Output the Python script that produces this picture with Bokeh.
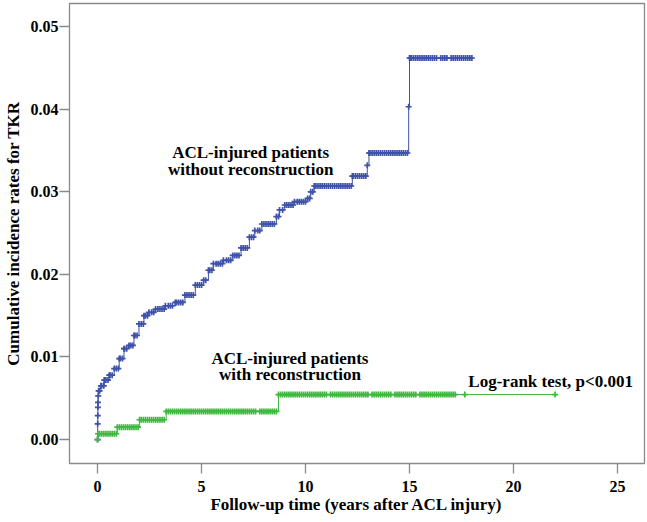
import numpy as np
from bokeh.plotting import figure
from bokeh.models import Range1d, FixedTicker, PrintfTickFormatter
from bokeh.core.properties import value
from bokeh.embed import file_html
from bokeh.resources import INLINE

# ---- data ----
# ACL-injured patients without reconstruction: event times (years) and cumulative incidence
blue_t = [0.0, 0.005, 0.01, 0.015, 0.02, 0.03, 0.05, 0.16, 0.32, 0.56, 0.80, 1.04, 1.27, 1.51,
          1.75, 1.99, 2.23, 2.47, 2.79, 3.26, 3.74, 4.20, 4.70, 5.10, 5.33, 5.57, 6.05, 6.50,
          6.90, 7.30, 7.56, 7.90, 8.60, 8.75, 9.00, 9.47, 10.10, 10.25, 10.42, 12.25, 12.97,
          13.05, 14.96, 15.00]
blue_s = [0.0, 0.0019, 0.0029, 0.0039, 0.0045, 0.0053, 0.0059, 0.0065, 0.0072, 0.0078, 0.0086,
          0.0098, 0.0110, 0.0114, 0.0126, 0.0140, 0.0150, 0.0154, 0.0158, 0.0162, 0.0166,
          0.0175, 0.0187, 0.0193, 0.0205, 0.0213, 0.0217, 0.0223, 0.0232, 0.0245, 0.0253,
          0.0261, 0.0270, 0.0278, 0.0284, 0.0288, 0.0292, 0.0300, 0.0307, 0.0319, 0.0332,
          0.0347, 0.0403, 0.0462]
blue_end = 18.0
blue_cens = [0.1, 0.2, 0.3, 0.4, 0.5, 0.6, 0.7, 0.9, 1.0, 1.1, 1.2, 1.3, 1.4, 1.6, 1.7, 1.8, 1.9,
             2.1, 2.2, 2.3, 2.4, 2.6, 2.7, 2.9, 3.0, 3.1, 3.2, 3.4, 3.5, 3.6, 3.8, 3.9, 4.0, 4.1,
             4.3, 4.4, 4.5, 4.6, 4.8, 4.9, 5.0, 5.2, 5.4, 5.5, 5.7, 5.8, 5.9, 6.0, 6.2, 6.3, 6.4,
             6.6, 6.7, 6.8, 7.0, 7.1, 7.2, 7.4, 7.5, 7.7, 7.8, 8.0, 8.1, 8.2, 8.3, 8.4, 8.5, 8.7,
             8.9, 9.1, 9.2, 9.3, 9.4, 9.6, 9.7, 9.8, 9.9, 10.0, 10.2, 10.35, 10.5, 10.6, 10.7,
             10.8, 10.9, 11.0, 11.1, 11.2, 11.3, 11.4, 11.5, 11.6, 11.7, 11.8, 11.9, 12.0, 12.1,
             12.2, 12.3, 12.4, 12.5, 12.6, 12.7, 12.8, 12.9, 13.1, 13.2, 13.3, 13.4, 13.5, 13.6,
             13.7, 13.8, 13.9, 14.0, 14.1, 14.2, 14.3, 14.4, 14.5, 14.6, 14.7, 14.8, 14.9,
             15.05, 15.1, 15.2, 15.3, 15.4, 15.5, 15.6, 15.7, 15.8, 15.9, 16.0, 16.1, 16.2,
             16.3, 16.5, 16.6, 16.7, 16.8, 17.0, 17.1, 17.2, 17.3, 17.4, 17.5, 17.6, 17.7,
             17.8, 17.9, 18.0]

# ACL-injured patients with reconstruction
green_t = [0.0, 0.02, 0.95, 2.02, 3.30, 8.70]
green_s = [0.0, 0.0007, 0.0015, 0.0024, 0.0034, 0.00545]
green_end = 22.0
green_cens = [0.1, 0.2, 0.3, 0.4, 0.5, 0.6, 0.7, 0.8, 0.9, 1.05, 1.15, 1.25, 1.35, 1.45, 1.55,
              1.65, 1.75, 1.85, 1.95, 2.1, 2.2, 2.3, 2.4, 2.5, 2.6, 2.7, 2.8, 2.9, 3.0, 3.1,
              3.2, 3.4, 3.5, 3.6, 3.7, 3.8, 3.9, 4.0, 4.1, 4.2, 4.3, 4.4, 4.5, 4.6, 4.7, 4.8,
              4.9, 5.0, 5.1, 5.2, 5.3, 5.4, 5.5, 5.6, 5.7, 5.8, 5.9, 6.0, 6.1, 6.2, 6.3, 6.4,
              6.5, 6.6, 6.7, 6.8, 6.9, 7.0, 7.1, 7.2, 7.3, 7.4, 7.5, 7.6, 7.8, 7.9, 8.0, 8.1,
              8.2, 8.3, 8.4, 8.5, 8.6, 8.8, 8.9, 9.0, 9.1, 9.2, 9.3, 9.4, 9.5, 9.6, 9.7, 9.8,
              9.9, 10.0, 10.1, 10.2, 10.3, 10.4, 10.5, 10.6, 10.7, 10.8, 10.9, 11.0, 11.2,
              11.3, 11.4, 11.5, 11.6, 11.7, 11.8, 11.9, 12.0, 12.1, 12.2, 12.3, 12.4, 12.5,
              12.6, 12.7, 12.8, 12.9, 13.0, 13.2, 13.3, 13.4, 13.5, 13.6, 13.7, 13.8, 13.9,
              14.0, 14.1, 14.3, 14.4, 14.5, 14.6, 14.7, 14.8, 14.9, 15.0, 15.1, 15.2, 15.3,
              15.5, 15.6, 15.7, 15.8, 15.9, 16.0, 16.1, 16.2, 16.3, 16.4, 16.5, 16.6, 16.7,
              16.8, 16.9, 17.0, 17.1, 17.2, 17.66, 22.0]

x_ticks = [0, 5, 10, 15, 20, 25]
y_ticks = [0.0, 0.01, 0.02, 0.03, 0.04, 0.05]

BLUE = "#3d52a8"
GREEN = "#3fb83f"
FONT = "Liberation Serif"

p = figure(width=647, height=522, output_backend="svg", toolbar_location=None,
           x_range=Range1d(-1.35, 26.3), y_range=Range1d(-0.0029, 0.0528),
           min_border_left=65, min_border_right=3, min_border_top=3, min_border_bottom=59)
p.title.visible = False
p.xgrid.visible = False
p.ygrid.visible = False
p.outline_line_color = "#8a8a8a"
p.outline_line_width = 1.3
p.background_fill_color = "white"


def cens_y(t, s, cens):
    idx = np.searchsorted(np.array(t), np.array(cens), side="right") - 1
    return list(np.array(s)[idx])


for t, s, end, cens, col in [(blue_t, blue_s, blue_end, blue_cens, BLUE),
                             (green_t, green_s, green_end, green_cens, GREEN)]:
    xs = list(t) + [end]
    ys = list(s) + [s[-1]]
    p.step(xs, ys, mode="after", line_color=col, line_width=1)
    p.scatter(t, s, marker="cross", size=6, line_color=col, line_width=1.7)
    p.scatter(cens, cens_y(t, s, cens), marker="cross", size=6, line_color=col, line_width=1.7)

txt = dict(text_font=value(FONT), text_font_style="bold", text_font_size="17px",
           text_color="black", text_baseline="middle")
p.text(x=[7.36, 7.36], y=[0.0348, 0.0327],
       text=["ACL-injured patients", "without reconstruction"], text_align="center", **txt)
p.text(x=[9.25, 9.25], y=[0.0098, 0.0079],
       text=["ACL-injured patients", "with reconstruction"], text_align="center", **txt)
p.text(x=[17.83], y=[0.0070], text=["Log-rank test, p<0.001"], text_align="left", **txt)

for ax in (p.xaxis[0], p.yaxis[0]):
    ax.axis_line_color = None
    ax.major_tick_line_color = "#8a8a8a"
    ax.major_tick_line_width = 1.3
    ax.major_tick_in = 0
    ax.major_tick_out = 10
    ax.minor_tick_line_color = None
    ax.major_label_text_font = FONT
    ax.major_label_text_font_style = "bold"
    ax.major_label_text_font_size = "16px"
    ax.major_label_text_color = "black"
    ax.axis_label_text_font = FONT
    ax.axis_label_text_font_style = "bold"
    ax.axis_label_text_font_size = "17px"
    ax.axis_label_text_color = "black"

p.xaxis.ticker = FixedTicker(ticks=x_ticks)
p.yaxis.ticker = FixedTicker(ticks=y_ticks)
p.yaxis.formatter = PrintfTickFormatter(format="%.2f")
p.xaxis.axis_label = "Follow-up time (years after ACL injury)"
p.yaxis.axis_label = "Cumulative incidence rates for TKR"
p.xaxis.major_label_standoff = 7
p.xaxis.axis_label_standoff = 0
p.yaxis.major_label_standoff = 1
p.yaxis.axis_label_standoff = 5

open("out.html", "w").write(file_html(p, INLINE))
